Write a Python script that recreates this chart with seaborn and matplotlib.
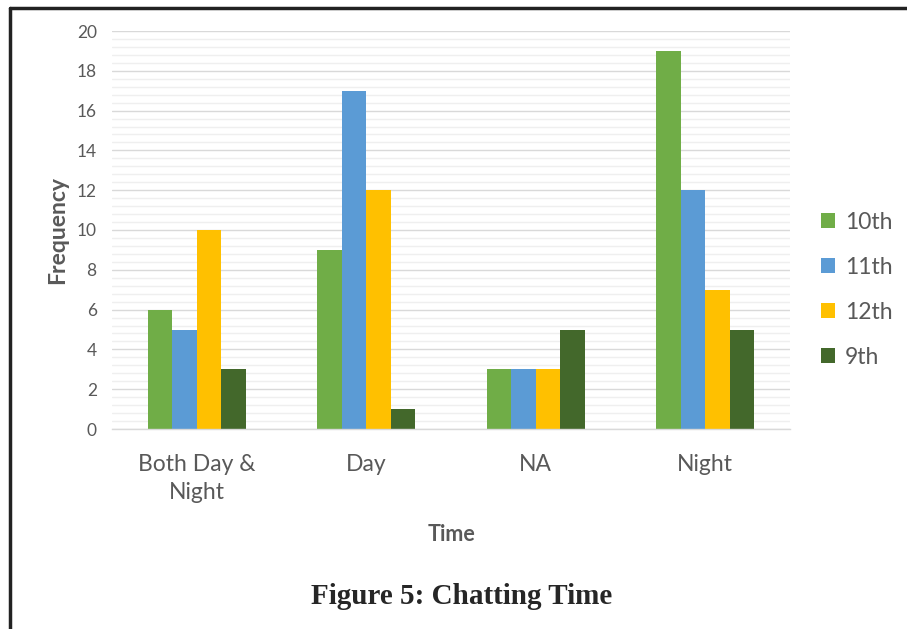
import numpy as np
import pandas as pd
import matplotlib
matplotlib.use("Agg")
import matplotlib.pyplot as plt
from matplotlib.lines import Line2D
from matplotlib.ticker import MultipleLocator
import seaborn as sns

# ─── Data ────────────────────────────────────────────────────
categories = ["Both Day &\nNight", "Day", "NA", "Night"]
grades = ["10th", "11th", "12th", "9th"]
freq_10th = [6, 9, 3, 19]
freq_11th = [5, 17, 3, 12]
freq_12th = [10, 12, 3, 7]
freq_9th = [3, 1, 5, 5]

colors = ["#70AD47", "#5B9BD5", "#FFC000", "#43682B"]
TEXT = "#595959"

rows = []
for grade, vals in zip(grades, [freq_10th, freq_11th, freq_12th, freq_9th]):
    for cat, v in zip(categories, vals):
        rows.append({"Time": cat, "Grade": grade, "Frequency": v})
df = pd.DataFrame(rows)

sns.set_theme(style="white")
plt.rcParams["font.family"] = ["Lato", "DejaVu Sans"]

fig = plt.figure(figsize=(9.07, 6.29), dpi=100)
ax = fig.add_axes([112 / 907, 1 - 429 / 629, (790 - 112) / 907, (429 - 31) / 629])

sns.barplot(
    data=df, x="Time", y="Frequency", hue="Grade",
    order=categories, hue_order=grades, palette=colors,
    width=0.58, gap=0, saturation=1, linewidth=0, ax=ax,
)

ax.set_ylim(0, 20)
ax.set_xlim(-0.5, 3.5)
ax.yaxis.set_major_locator(MultipleLocator(2))
ax.yaxis.set_minor_locator(MultipleLocator(0.4))
ax.grid(axis="y", which="major", color="#D9D9D9", linewidth=1.0)
ax.grid(axis="y", which="minor", color="#EFEFEF", linewidth=1.0)
ax.set_axisbelow(True)
for side in ["top", "right", "left"]:
    ax.spines[side].set_visible(False)
ax.spines["bottom"].set_color("#D9D9D9")
ax.spines["bottom"].set_linewidth(1.0)

ax.tick_params(axis="y", which="both", length=0, labelsize=12.5, labelcolor=TEXT, pad=11)
ax.tick_params(axis="x", length=0, labelsize=16.5, labelcolor=TEXT, pad=18)
for lbl in ax.get_xticklabels():
    lbl.set_linespacing(1.4)
ax.set_xlabel("Time", fontsize=15.5, fontweight="bold", color=TEXT, labelpad=15)
ax.set_ylabel("Frequency", fontsize=16.5, fontweight="bold", color=TEXT, labelpad=6)

handles, labels = ax.get_legend_handles_labels()
ax.legend(
    handles, labels, loc="center left", bbox_to_anchor=(1.015, 0.35),
    frameon=False, fontsize=16.5, labelcolor=TEXT,
    handlelength=0.6, handleheight=0.6, handletextpad=0.45, labelspacing=1.05,
)

fig.text(462 / 907, 1 - 596 / 629, "Figure 5: Chatting Time", ha="center", va="center",
         fontsize=21, fontweight="bold", family=["Liberation Serif", "DejaVu Serif"])

# page frame (top and left edges)
fig.add_artist(Line2D([10 / 907, 1], [1 - 8 / 629, 1 - 8 / 629], transform=fig.transFigure,
                      color="#222222", linewidth=2.5))
fig.add_artist(Line2D([10 / 907, 10 / 907], [0, 1 - 8 / 629], transform=fig.transFigure,
                      color="#222222", linewidth=2.5))

fig.savefig("out.png", dpi=100)
